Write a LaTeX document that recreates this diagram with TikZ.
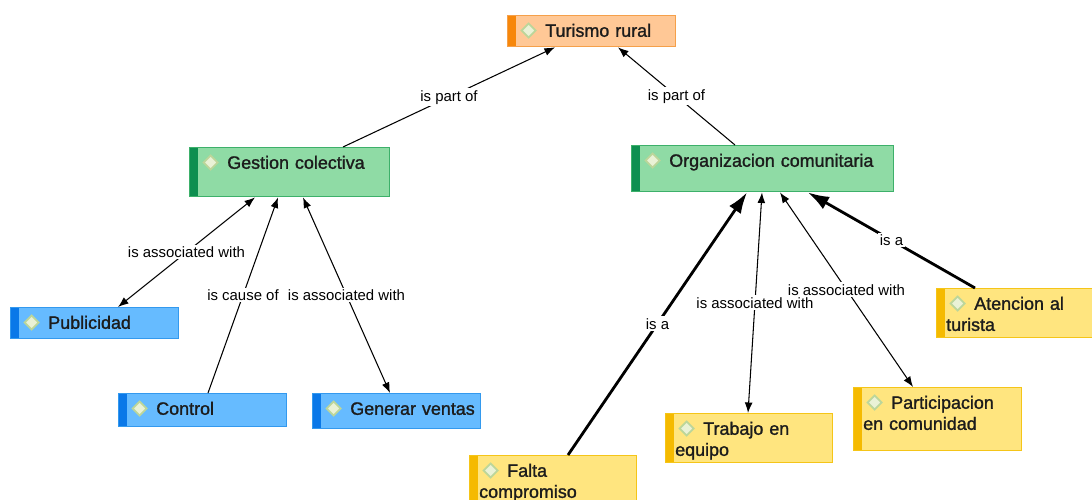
\documentclass[tikz,border=0pt]{standalone}
\usepackage{fontspec}
\setmainfont{Liberation Sans}
\newfontfamily\conceptfont{Liberation Sans}[FakeBold=1.3]
\usetikzlibrary{arrows.meta, calc}

\definecolor{orfill}{HTML}{FFC896}
\definecolor{oredge}{HTML}{F5A04A}
\definecolor{orbar}{HTML}{F7870A}
\definecolor{grfill}{HTML}{8FDBA5}
\definecolor{gredge}{HTML}{3DB06A}
\definecolor{grbar}{HTML}{0E8F50}
\definecolor{blfill}{HTML}{66BBFF}
\definecolor{bledge}{HTML}{3399EE}
\definecolor{blbar}{HTML}{0A78E8}
\definecolor{yefill}{HTML}{FFE57F}
\definecolor{yeedge}{HTML}{F5C518}
\definecolor{yebar}{HTML}{F5BA00}
\definecolor{diafill}{HTML}{EAF2D6}
\definecolor{diaedge}{HTML}{BCD69A}
\definecolor{nodetext}{HTML}{1C1C1C}

\hyphenpenalty=10000
\exhyphenpenalty=10000

% small diamond icon in front of each concept
\newcommand{\dia}{\hspace*{2pt}\tikz[x=1cm,y=1cm,baseline=0pt]\filldraw[draw=diaedge, fill=diafill, line width=1pt] (0,0.125) -- (0.14,0.265) -- (0.28,0.125) -- (0.14,-0.015) -- cycle;\nobreak\hspace{5pt}\nobreak}

\tikzset{
  concept/.style={draw, anchor=north west, align=left, inner xsep=0.19cm, inner ysep=4.4pt,
    text height=7.6pt, line width=0.8pt, text=nodetext, font=\conceptfont\fontsize{10.2}{12}\selectfont},
  bar/.style={path picture={\fill[#1] (path picture bounding box.north west) rectangle ([xshift=0.17cm]path picture bounding box.south west);}},
  orangebox/.style={concept, fill=orfill, draw=oredge, bar=orbar},
  greenbox/.style={concept, fill=grfill, draw=gredge, bar=grbar},
  bluebox/.style={concept, fill=blfill, draw=bledge, bar=blbar},
  yellowbox/.style={concept, fill=yefill, draw=yeedge, bar=yebar},
  link/.style={line width=0.6pt, -{Latex[length=6pt,width=4.5pt]}},
  both/.style={line width=0.6pt, {Latex[length=6pt,width=4.5pt]}-{Latex[length=6pt,width=4.5pt]}},
  isa/.style={line width=1.6pt, -{Latex[length=12pt,width=8pt]}},
  lbl/.style={midway, fill=white, inner sep=1pt, font=\fontsize{8.5}{10}\selectfont}
}

\begin{document}
\begin{tikzpicture}[x=0.02cm, y=-0.02cm]

	\useasboundingbox (0,0) rectangle (1092,500);
	\clip (0,0) rectangle (1092,500);

	% Concepts
	\node[orangebox, text width=2.98cm, text depth=1.2pt] (turismo) at (507,15) {\dia Turismo~rural};
	\node[greenbox, text width=3.62cm, text depth=11.5pt] (gestion) at (189,147) {\dia Gestion~colectiva};
	\node[greenbox, text width=4.86cm, text depth=9.8pt] (organizacion) at (631,145) {\dia Organizacion~comunitaria};
	\node[bluebox, text width=2.98cm, text depth=1.2pt] (publicidad) at (10,307) {\dia Publicidad};
	\node[bluebox, text width=2.98cm, text depth=2.4pt] (control) at (118,393) {\dia Control};
	\node[bluebox, text width=2.98cm, text depth=3.5pt] (ventas) at (312,393) {\dia Generar~ventas};
	\node[yellowbox, text width=2.82cm, text depth=11.5pt] (atencion) at (936,288) {\dia Atencion~al\\turista};
	\node[yellowbox, text width=2.96cm, text depth=17.7pt] (falta) at (469,455) {\dia Falta\\compromiso};
	\node[yellowbox, text width=2.96cm, text depth=11.5pt] (trabajo) at (665,413) {\dia Trabajo~en\\equipo};
	\node[yellowbox, text width=2.98cm, text depth=19.5pt] (participacion) at (853,387) {\dia Participacion\\en~comunidad};

	% Links
	\draw[link] ($(gestion.north west)+(154,0)$) -- node[lbl] (l1) {is part of} ($(turismo.south west)+(48,0)$);
	\draw[link] ($(organizacion.north west)+(104,0)$) -- node[lbl] (l2) {is part of} ($(turismo.south west)+(111,0)$);
	\draw[both] ($(publicidad.north west)+(108,0)$) -- node[lbl] (l3) {is associated with} ($(gestion.south west)+(66,0)$);
	\draw[link] ($(control.north west)+(90,0)$) -- node[lbl] (l4) {is cause of} ($(gestion.south west)+(89,0)$);
	\draw[both] ($(ventas.north west)+(78,0)$) -- node[lbl] (l5) {is associated with} ($(gestion.south west)+(114,0)$);
	\draw[isa] ($(falta.north west)+(99,0)$) -- node[lbl] (l6) {is a} ($(organizacion.south west)+(116,0)$);
	\draw[both] ($(trabajo.north west)+(83,0)$) -- node[lbl] (l7) {is associated with} ($(organizacion.south west)+(131,0)$);
	\draw[both] ($(participacion.north west)+(60,0)$) -- node[lbl] (l8) {is associated with} ($(organizacion.south west)+(149,0)$);
	\draw[isa] ($(atencion.north west)+(39,0)$) -- node[lbl] (l9) {is a} ($(organizacion.south west)+(177,0)$);

\end{tikzpicture}
\end{document}
